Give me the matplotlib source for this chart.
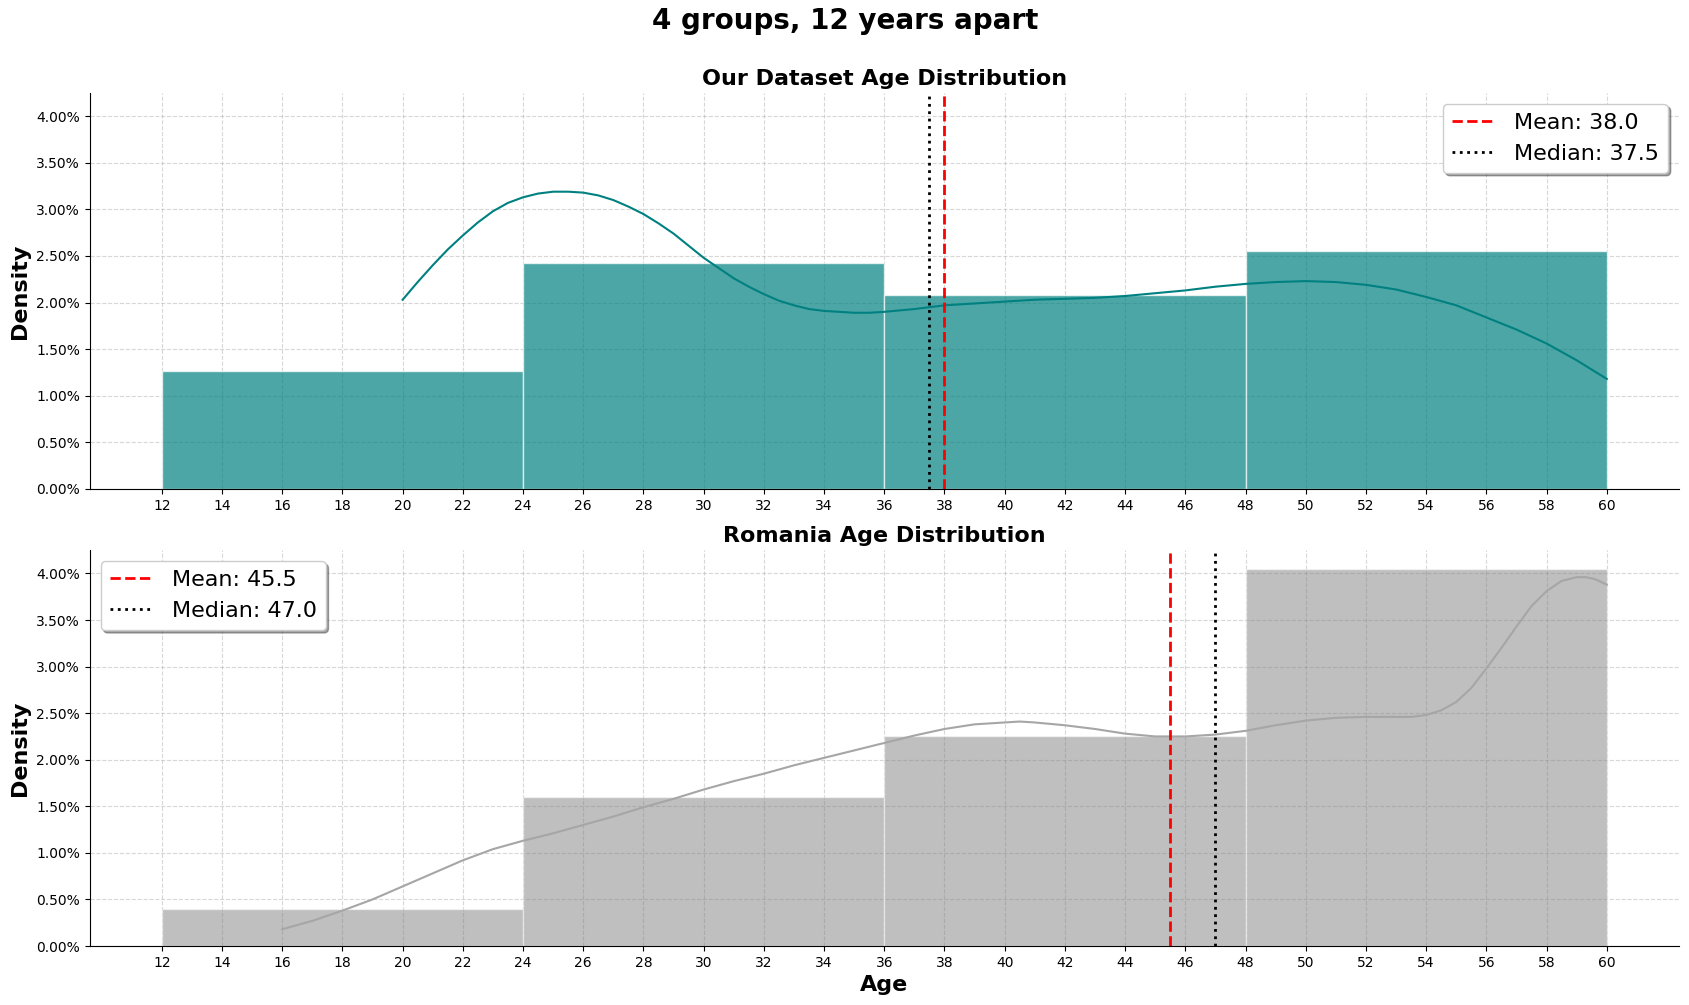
import matplotlib
matplotlib.use("Agg")
import matplotlib.pyplot as plt
import numpy as np
from matplotlib.ticker import PercentFormatter

# bin edges (4 groups, 12 years apart)
bin_edges = [12, 24, 36, 48, 60]

# density per bin (fraction per year)
ours_density = [0.0127, 0.0242, 0.0208, 0.0255]
ro_density = [0.0040, 0.0160, 0.0226, 0.0405]

# kde curves (age, density)
ours_kde_x = [20, 20.5, 21, 21.5, 22, 22.5, 23, 23.5, 24, 24.5, 25, 25.5, 26, 26.5, 27, 27.5,
              28, 28.5, 29, 29.5, 30, 30.5, 31, 31.5, 32, 32.5, 33, 33.5, 34, 34.5, 35, 35.5,
              36, 37, 38, 39, 40, 41, 42, 43, 44, 45, 46, 47, 48, 49, 50, 51, 52, 53, 54, 55,
              56, 57, 58, 59, 60]
ours_kde_y = [0.0203, 0.0222, 0.0240, 0.0257, 0.0272, 0.0286, 0.0298, 0.0307, 0.0313, 0.0317,
              0.0319, 0.0319, 0.0318, 0.0315, 0.0310, 0.0303, 0.0295, 0.0285, 0.0274, 0.0261,
              0.0248, 0.0237, 0.0226, 0.0217, 0.0209, 0.0202, 0.0197, 0.0193, 0.0191, 0.0190,
              0.0189, 0.0189, 0.0190, 0.0193, 0.0197, 0.0199, 0.0201, 0.0203, 0.0204, 0.0205,
              0.0207, 0.0210, 0.0213, 0.0217, 0.0220, 0.0222, 0.0223, 0.0222, 0.0219, 0.0214,
              0.0206, 0.0197, 0.0184, 0.0171, 0.0156, 0.0138, 0.0118]
ro_kde_x = [16, 17, 18, 19, 20, 21, 22, 23, 24, 25, 26, 27, 28, 29, 30, 31, 32, 33, 34, 35,
            36, 37, 38, 39, 40, 40.5, 41, 42, 43, 44, 45, 46, 47, 48, 49, 50, 51, 52, 53, 53.5,
            54, 54.5, 55, 55.5, 56, 56.5, 57, 57.5, 58, 58.5, 59, 59.3, 59.6, 60]
ro_kde_y = [0.0018, 0.0027, 0.0038, 0.0050, 0.0064, 0.0078, 0.0092, 0.0104, 0.0113, 0.0121,
            0.0130, 0.0139, 0.0149, 0.0158, 0.0168, 0.0177, 0.0185, 0.0194, 0.0202, 0.0210,
            0.0218, 0.0226, 0.0233, 0.0238, 0.0240, 0.0241, 0.0240, 0.0237, 0.0233, 0.0228,
            0.0225, 0.0225, 0.0227, 0.0231, 0.0237, 0.0242, 0.0245, 0.0246, 0.0246, 0.0246,
            0.0248, 0.0253, 0.0262, 0.0277, 0.0298, 0.0320, 0.0343, 0.0365, 0.0381, 0.0392,
            0.0396, 0.0396, 0.0394, 0.0388]

ours_mean, ours_median = 38.0, 37.5
ro_mean, ro_median = 45.5, 47.0

fig, (ax1, ax2) = plt.subplots(2, 1, figsize=(16.9, 10.05), dpi=100, sharey=True)
fig.subplots_adjust(left=0.053, right=0.9935, top=0.9075, bottom=0.0587, hspace=0.155)

widths = np.diff(bin_edges)
panels = [
    (ax1, ours_density, ours_kde_x, ours_kde_y, ours_mean, ours_median,
     "Our Dataset Age Distribution", "teal", 0.7, "teal", "upper right"),
    (ax2, ro_density, ro_kde_x, ro_kde_y, ro_mean, ro_median,
     "Romania Age Distribution", "gray", 0.5, "#a6a6a6", "upper left"),
]

for ax, dens, kx, ky, mean, median, title, color, alpha, kcolor, loc in panels:
    ax.bar(bin_edges[:-1], dens, width=widths, align="edge", color=color, alpha=alpha,
           edgecolor="white", linewidth=1)
    ax.plot(kx, ky, color=kcolor, linewidth=1.5)
    ax.axvline(mean, color="red", linestyle="--", linewidth=2, label=f"Mean: {mean:.1f}")
    ax.axvline(median, color="black", linestyle=":", linewidth=2, label=f"Median: {median:.1f}")
    ax.set_title(title, fontsize=16, fontweight="bold")
    ax.set_ylabel("Density", fontsize=16, fontweight="bold")
    ax.set_xticks(range(12, 62, 2))
    ax.yaxis.set_major_formatter(PercentFormatter(xmax=1, decimals=2))
    ax.tick_params(labelsize=10)
    ax.grid(True, linestyle="--", alpha=0.5)
    ax.set_axisbelow(True)
    ax.spines["top"].set_visible(False)
    ax.spines["right"].set_visible(False)
    ax.legend(loc=loc, fontsize=16, shadow=True, fancybox=True)

ax1.set_xlim(9.6, 62.4)
ax2.set_xlim(9.6, 62.4)
ax1.set_ylim(0, 0.0425)
ax1.set_yticks(np.arange(0, 0.0401, 0.005))
ax2.set_xlabel("Age", fontsize=16, fontweight="bold")

fig.suptitle("4 groups, 12 years apart", fontsize=20, fontweight="bold", y=0.993)
fig.savefig("out.png", dpi=100)
